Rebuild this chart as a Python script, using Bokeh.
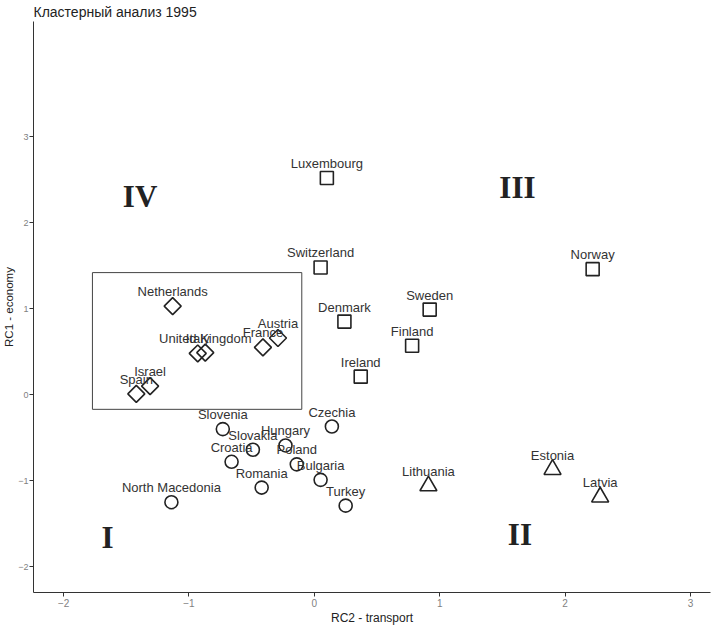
import math
from bokeh.plotting import figure
from bokeh.models import ColumnDataSource, Range1d, FixedTicker
from bokeh.embed import file_html
from bokeh.resources import INLINE
from bokeh.core.properties import value

# ---- data ----
sq_names = ["Luxembourg", "Switzerland", "Denmark", "Sweden", "Finland", "Ireland", "Norway"]
sq_x = [0.10, 0.05, 0.24, 0.92, 0.78, 0.37, 2.22]
sq_y = [2.52, 1.48, 0.85, 0.99, 0.57, 0.21, 1.46]

dm_names = ["Netherlands", "Austria", "France", "United Kingdom", "Italy", "Israel", "Spain"]
dm_x = [-1.13, -0.29, -0.41, -0.87, -0.93, -1.31, -1.42]
dm_y = [1.03, 0.66, 0.55, 0.49, 0.48, 0.10, 0.01]

ci_names = ["Slovenia", "Slovakia", "Hungary", "Croatia", "Poland", "Czechia",
            "Romania", "Bulgaria", "Turkey", "North Macedonia"]
ci_x = [-0.73, -0.49, -0.23, -0.66, -0.14, 0.14, -0.42, 0.05, 0.25, -1.14]
ci_y = [-0.40, -0.64, -0.59, -0.78, -0.81, -0.37, -1.08, -0.99, -1.29, -1.25]

tr_names = ["Lithuania", "Estonia", "Latvia"]
tr_x = [0.91, 1.90, 2.28]
tr_y = [-1.06, -0.87, -1.19]

roman = ["IV", "III", "I", "II"]
roman_x = [-1.39, 1.62, -1.65, 1.64]
roman_y = [2.30, 2.41, -1.66, -1.63]

box_x = [-1.77, -0.10]
box_y = [-0.17, 1.42]

x_ticks = [-2, -1, 0, 1, 2, 3]
y_ticks = [-2, -1, 0, 1, 2, 3]

SANS = "Liberation Sans"
INK = "#222222"

p = figure(width=705, height=618, frame_width=677, frame_height=571,
           output_backend="svg", toolbar_location=None,
           x_range=Range1d(-2.24, 3.16), y_range=Range1d(-2.30, 4.34),
           title="Кластерный анализ 1995",
           min_border_left=0, min_border_right=2, min_border_top=0, min_border_bottom=0)

p.title.text_font = SANS
p.title.text_font_size = "14px"
p.title.text_font_style = "normal"
p.title.text_color = INK
p.title.standoff = 3
p.title.offset = 0

p.xgrid.visible = False
p.ygrid.visible = False
p.outline_line_color = None
p.background_fill_color = "white"

for ax in (p.xaxis[0], p.yaxis[0]):
    ax.axis_line_color = "#333333"
    ax.axis_line_width = 1
    ax.major_tick_line_color = "#333333"
    ax.major_tick_in = 0
    ax.major_tick_out = 4
    ax.minor_tick_line_color = None
    ax.major_label_text_font = SANS
    ax.major_label_text_font_size = "10px"
    ax.major_label_text_color = "#7f7f7f"
    ax.axis_label_text_font = SANS
    ax.axis_label_text_font_size = "12px"
    ax.axis_label_text_font_style = "normal"
    ax.axis_label_text_color = INK
    ax.major_label_standoff = 2
    ax.axis_label_standoff = 1

p.yaxis.major_label_text_font_size = "9px"
p.yaxis.major_label_standoff = 1
p.yaxis.axis_label_standoff = 0
p.yaxis.axis_label_text_font_size = "11.5px"

p.xaxis.ticker = FixedTicker(ticks=x_ticks)
p.yaxis.ticker = FixedTicker(ticks=y_ticks)
p.xaxis.axis_label = "RC2 - transport"
p.yaxis.axis_label = "RC1 - economy"

# box
p.quad(left=[box_x[0]], right=[box_x[1]], bottom=[box_y[0]], top=[box_y[1]],
       fill_color=None, line_color="#444444", line_width=1)

def group(names, xs, ys, marker, size, angle=0.0):
    src = ColumnDataSource(dict(x=xs, y=ys, name=names))
    p.scatter("x", "y", source=src, marker=marker, size=size, angle=angle,
              fill_color=None, line_color=INK, line_width=1.6)
    p.text("x", "y", text="name", source=src, text_font=value(SANS),
           text_font_size="13px", text_color="#333333", text_align="center",
           text_baseline="bottom", y_offset=-7)

group(sq_names, sq_x, sq_y, "square", 13)
group(dm_names, dm_x, dm_y, "square", 12, angle=math.pi / 4)
group(ci_names, ci_x, ci_y, "circle", 13)
group(tr_names, tr_x, tr_y, "triangle", 17)

rsrc = ColumnDataSource(dict(x=roman_x, y=roman_y, t=roman))
p.text("x", "y", text="t", source=rsrc, text_font=value("Liberation Serif"),
       text_font_size="31px", text_font_style="bold", text_color=INK,
       text_align="center", text_baseline="middle")

open("out.html", "w").write(file_html(p, INLINE))
